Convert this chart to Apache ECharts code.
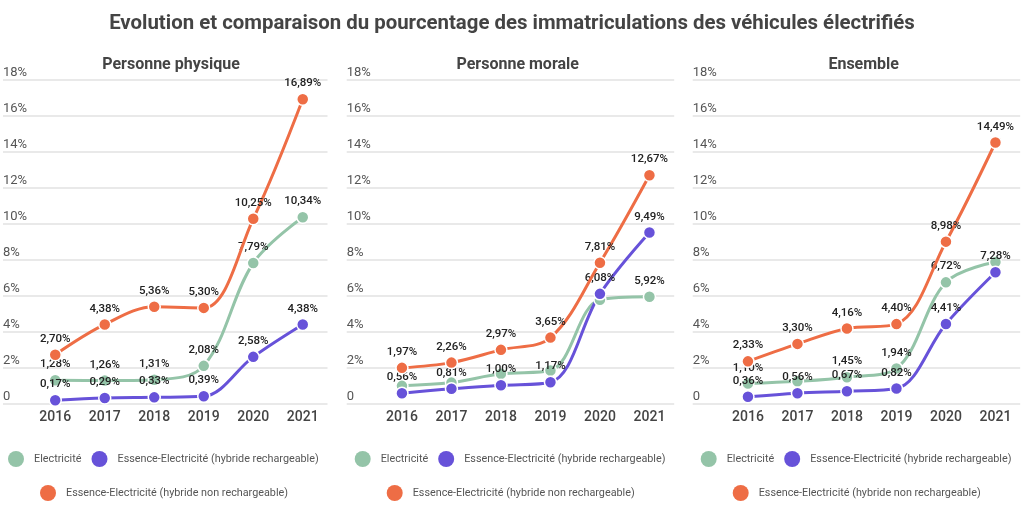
<!DOCTYPE html>
<html>
<head>
<meta charset="utf-8">
<script src="https://cdn.jsdelivr.net/npm/echarts@6/dist/echarts.min.js"></script>
<style>
  html, body { margin: 0; padding: 0; background: #fff; }
  #main { width: 1024px; height: 512px; }
</style>
</head>
<body>
<div id="main"></div>
<script>
var myChart = echarts.init(document.getElementById('main'));

// donnees
var years = ['2016', '2017', '2018', '2019', '2020', '2021'];
var seriesNames = [
    'Electricité',
    'Essence-Electricité (hybride rechargeable)',
    'Essence-Electricité (hybride non rechargeable)'
];
var panelTitles = ['Personne physique', 'Personne morale', 'Ensemble'];

var physiqueElec = [1.28, 1.26, 1.31, 2.08, 7.79, 10.34];
var physiqueHybR = [0.17, 0.29, 0.33, 0.39, 2.58, 4.38];
var physiqueHybNR = [2.70, 4.38, 5.36, 5.30, 10.25, 16.89];

var moraleElec = [0.97, 1.15, 1.64, 1.82, 5.75, 5.92];
var moraleHybR = [0.56, 0.81, 1.00, 1.17, 6.08, 9.49];
var moraleHybNR = [1.97, 2.26, 2.97, 3.65, 7.81, 12.67];

var ensembleElec = [1.10, 1.22, 1.45, 1.94, 6.72, 7.85];
var ensembleHybR = [0.36, 0.56, 0.67, 0.82, 4.41, 7.28];
var ensembleHybNR = [2.33, 3.30, 4.16, 4.40, 8.98, 14.49];

// quelles etiquettes sont affichees (le reste est masque dans l'original)
var allLabels = [true, true, true, true, true, true];
var moraleElecLabels = [false, false, false, false, false, true];
var ensembleElecLabels = [true, false, true, true, true, false];

var panels = [
    [physiqueElec, physiqueHybR, physiqueHybNR, [allLabels, allLabels, allLabels]],
    [moraleElec, moraleHybR, moraleHybNR, [moraleElecLabels, allLabels, allLabels]],
    [ensembleElec, ensembleHybR, ensembleHybNR, [ensembleElecLabels, allLabels, allLabels]]
];

var colors = ['#94c4a8', '#6752d9', '#ee6d45'];
var font = 'Roboto, "Noto Sans", sans-serif';
var panelLeft = [0, 346.7, 692.7];
var gridTop = 79.3, gridH = 324;

function fmt(v) {
    return v.toFixed(2).replace('.', ',') + '%';
}

var option = {
    backgroundColor: '#fff',
    animation: false,
    title: [{
        text: 'Evolution et comparaison du pourcentage des immatriculations des véhicules électrifiés',
        left: 'center',
        top: 9,
        textStyle: { fontFamily: font, fontSize: 20.4, fontWeight: 'bold', color: '#444' }
    }],
    legend: [],
    grid: [],
    xAxis: [],
    yAxis: [],
    series: []
};

panels.forEach(function(p, k) {
    var L = panelLeft[k];

    option.title.push({
        text: panelTitles[k],
        left: L + 166,
        textAlign: 'center',
        top: 52,
        textStyle: { fontFamily: font, fontSize: 16, fontWeight: 'bold', color: '#444' }
    });

    // grille de fond (lignes horizontales + etiquettes y)
    option.grid.push({ left: L, top: gridTop, width: 327.5, height: gridH });
    // grille des courbes
    option.grid.push({ left: L + 30.5, top: gridTop, width: 297, height: gridH });

    option.xAxis.push({ gridIndex: 2 * k, type: 'category', data: years, show: false });
    option.yAxis.push({
        gridIndex: 2 * k, type: 'value', min: 0, max: 18, interval: 2,
        axisLine: { show: false }, axisTick: { show: false },
        splitLine: { lineStyle: { color: '#e2e2e2', width: 1.5 } },
        axisLabel: {
            inside: true, margin: 0, verticalAlign: 'bottom', padding: [0, 0, 0, 0],
            fontFamily: font, fontSize: 13, color: '#555',
            formatter: function(v) { return v === 0 ? '0' : v + '%'; }
        }
    });

    option.xAxis.push({
        gridIndex: 2 * k + 1, type: 'category', data: years, boundaryGap: true,
        axisLine: { show: false }, axisTick: { show: false },
        axisLabel: { margin: 7, fontFamily: font, fontSize: 14, fontWeight: 500, color: '#444' }
    });
    option.yAxis.push({
        gridIndex: 2 * k + 1, type: 'value', min: 0, max: 18, interval: 2, show: false,
        splitLine: { show: false }
    });

    for (var s = 0; s < 3; s++) {
        var vals = p[s], flags = p[3][s];
        option.series.push({
            name: seriesNames[s],
            type: 'line',
            xAxisIndex: 2 * k + 1,
            yAxisIndex: 2 * k + 1,
            smooth: 0.35,
            symbol: 'circle',
            symbolSize: 12,
            z: 2 + (s === 2 ? 1 : 0),
            lineStyle: { width: 3, color: colors[s] },
            itemStyle: { color: colors[s], borderColor: '#fff', borderWidth: 1.5 },
            label: {
                position: 'top', distance: 3,
                fontFamily: font, fontSize: 11.5, fontWeight: 500, color: '#222',
                formatter: function(d) { return fmt(d.value); }
            },
            data: vals.map(function(v, i) {
                return { value: v, label: { show: flags[i] } };
            })
        });
    }

    var legendStyle = {
        icon: 'circle', itemWidth: 16, itemHeight: 16, itemGap: 10,
        width: 400, padding: 0,
        itemStyle: { borderWidth: 0 },
        textStyle: { fontFamily: font, fontSize: 10.8, color: '#555', padding: [0, 0, 0, 5] },
        selectedMode: false
    };
    option.legend.push(Object.assign({
        left: L + 8, top: 451, data: [seriesNames[0], seriesNames[1]]
    }, legendStyle));
    option.legend.push(Object.assign({
        left: L + 40, top: 485, data: [seriesNames[2]]
    }, legendStyle));
});

myChart.setOption(option);
window.onresize = myChart.resize;
</script>
</body>
</html>
